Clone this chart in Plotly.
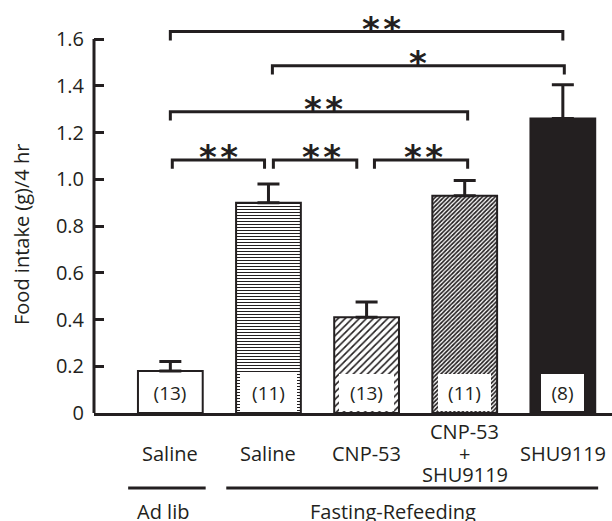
import plotly.graph_objects as go

# ---------------- data ----------------
categories = ["adlib_saline", "fr_saline", "fr_cnp53", "fr_cnp53_shu9119", "fr_shu9119"]
tick_lines = [["Saline"], ["Saline"], ["CNP-53"], ["CNP-53", "+", "SHU9119"], ["SHU9119"]]
means = [0.18, 0.90, 0.41, 0.93, 1.26]
sem = [0.04, 0.08, 0.065, 0.065, 0.145]
n_animals = [13, 11, 13, 11, 8]
groups = ["Ad lib", "Fasting-Refeeding"]
group_members = [[0], [1, 2, 3, 4]]
comparisons = [(0, 4, "**"), (1, 4, "*"), (0, 3, "**"), (0, 1, "**"), (1, 2, "**"), (2, 3, "**")]
y_tick_vals = [0, 0.2, 0.4, 0.6, 0.8, 1.0, 1.2, 1.4, 1.6]
y_tick_text = ["0", "0.2", "0.4", "0.6", "0.8", "1.0", "1.2", "1.4", "1.6"]
y_title = "Food intake (g)/4 hr"

# ---------------- styles ----------------
INK = "#231f20"
FONT = "Open Sans"
bar_colors = ["white", "white", "white", "white", INK]
pattern_shapes = ["", "-", "/", "/", ""]
pattern_sizes = [8, 3, 5, 3, 8]
pattern_solidity = [0.3, 0.35, 0.32, 0.55, 0.3]
n_box_widths = [50, 57, 55, 53, 43]
bracket_levels = [1.632, 1.486, 1.289, 1.083, 1.083, 1.083]
bracket_trim = [(0, 0), (0.04, 0.015), (0, 0.03), (0.02, -0.04), (0.05, -0.10), (0.08, 0.03)]
star_dx = [0.15, 0, 0.05, 0, 0.07, 0.03]
leg = 0.038
group_line_pad = (-0.43, 0.36)
group_label_dx = [-0.07, -0.23]

fig = go.Figure()
for i, cat in enumerate(categories):
    marker = dict(color=bar_colors[i], line=dict(color=INK, width=2))
    if pattern_shapes[i]:
        marker["pattern"] = dict(shape=pattern_shapes[i], size=pattern_sizes[i],
                                 solidity=pattern_solidity[i], fgcolor=INK,
                                 bgcolor="white", fillmode="replace")
    fig.add_trace(go.Bar(
        x=[cat], y=[means[i]], width=0.66, marker=marker,
        error_y=dict(type="data", array=[sem[i]], arrayminus=[0], symmetric=False,
                     color=INK, thickness=3, width=11),
        hoverinfo="skip",
    ))

shapes = []
annotations = []

# y axis line (only up to 1.6)
shapes.append(dict(type="line", xref="paper", yref="y", x0=0, x1=0, y0=0, y1=y_tick_vals[-1],
                   line=dict(color=INK, width=3)))

# significance brackets
for k, (a, b, lab) in enumerate(comparisons):
    x0 = a + bracket_trim[k][0]
    x1 = b + bracket_trim[k][1]
    yl = bracket_levels[k]
    shapes.append(dict(type="path", xref="x", yref="y",
                       path=f"M {x0},{yl - leg} L {x0},{yl} L {x1},{yl} L {x1},{yl - leg}",
                       line=dict(color=INK, width=3)))
    annotations.append(dict(x=(x0 + x1) / 2 + star_dx[k], y=yl, xref="x", yref="y",
                            text=lab.replace("**", "*\u200a*"), showarrow=False,
                            yanchor="middle", yshift=3,
                            font=dict(family="DejaVu Sans", size=34, color=INK, weight="bold")))

# n labels in white boxes
for i, n in enumerate(n_animals):
    annotations.append(dict(x=i, y=0, xref="x", yref="y", text=f"({n})", showarrow=False,
                            yanchor="bottom", yshift=2, width=n_box_widths[i], height=37,
                            bgcolor="white", borderpad=0, borderwidth=0,
                            font=dict(family=FONT, size=19, color=INK)))

# category labels
for i, lines in enumerate(tick_lines):
    mid = (len(lines) - 1) / 2
    for k, t in enumerate(lines):
        annotations.append(dict(x=i, y=-0.0978, xref="x", yref="paper", text=t, showarrow=False,
                                yanchor="middle", yshift=(mid - k) * 21.5,
                                font=dict(family=FONT, size=20, color=INK)))

# group lines and labels
for g, mem in enumerate(group_members):
    x0 = mem[0] + group_line_pad[0]
    x1 = mem[-1] + group_line_pad[1]
    shapes.append(dict(type="line", xref="x", yref="paper", x0=x0, x1=x1, y0=-0.1834, y1=-0.1834,
                       line=dict(color=INK, width=3)))
    annotations.append(dict(x=(mem[0] + mem[-1]) / 2 + group_label_dx[g], y=-0.203,
                            xref="x", yref="paper", text=groups[g], showarrow=False,
                            yanchor="top", font=dict(family=FONT, size=20, color=INK)))

# y title
annotations.append(dict(x=-0.139, y=0.4377, xref="paper", yref="paper", text=y_title,
                        showarrow=False, textangle=-90, xanchor="center", yanchor="middle",
                        font=dict(family=FONT, size=20, color=INK)))

fig.update_layout(
    width=612, height=521,
    margin=dict(l=94, r=0, t=4, b=108),
    paper_bgcolor="white", plot_bgcolor="white",
    showlegend=False, barmode="overlay",
    shapes=shapes, annotations=annotations,
    xaxis=dict(type="category", categoryorder="array", categoryarray=categories,
               range=[-0.778, 4.501], showline=True, linewidth=3, linecolor=INK,
               showticklabels=False, ticks="", showgrid=False, zeroline=False),
    yaxis=dict(range=[0, 1.75], tickvals=y_tick_vals, ticktext=y_tick_text, ticks="inside",
               ticklen=10, tickwidth=3, tickcolor=INK, showline=False, showgrid=False,
               zeroline=False, ticklabelstandoff=9,
               tickfont=dict(family=FONT, size=20, color=INK)),
)

fig.write_html("out.html", config={"displayModeBar": False},
               post_script="document.body.style.margin='0';document.body.style.overflow='hidden';")
